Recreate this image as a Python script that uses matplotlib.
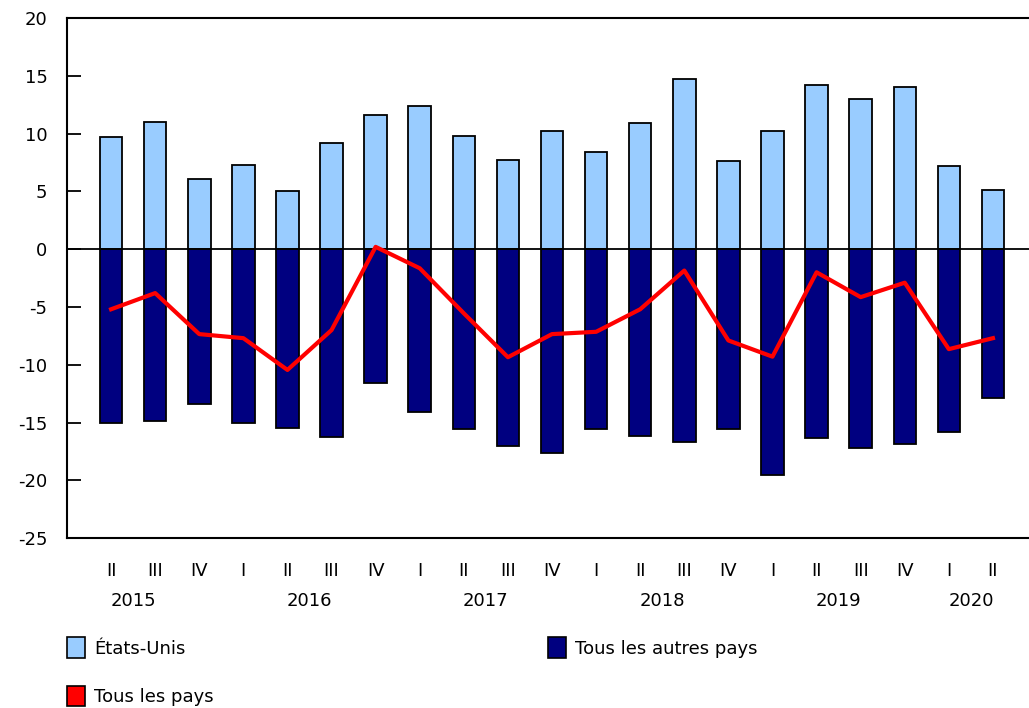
import matplotlib.pyplot as plt
from matplotlib.patches import Patch
import numpy as np

plt.rcParams['font.family'] = ['DejaVu Sans']
plt.rcParams['axes.unicode_minus'] = False

# quarters, 2015 Q2 .. 2020 Q2
quarters = ['II', 'III', 'IV', 'I', 'II', 'III', 'IV', 'I', 'II', 'III', 'IV',
            'I', 'II', 'III', 'IV', 'I', 'II', 'III', 'IV', 'I', 'II']
years = ['2015', '2016', '2017', '2018', '2019', '2020']
year_pos = [0.5, 4.5, 8.5, 12.5, 16.5, 19.5]

etats_unis = [9.75, 11.0, 6.1, 7.3, 5.0, 9.2, 11.65, 12.35, 9.8, 7.7, 10.2,
              8.4, 10.9, 14.75, 7.65, 10.25, 14.2, 13.0, 14.0, 7.2, 5.15]
autres_pays = [-15.0, -14.9, -13.4, -15.0, -15.45, -16.25, -11.55, -14.1, -15.6, -17.05, -17.6,
               -15.6, -16.15, -16.65, -15.6, -19.55, -16.3, -17.2, -16.9, -15.85, -12.9]
tous_pays = [-5.2, -3.8, -7.35, -7.7, -10.45, -7.0, 0.2, -1.65, -5.55, -9.35, -7.35,
             -7.15, -5.2, -1.85, -7.9, -9.3, -2.0, -4.15, -2.9, -8.65, -7.7]

c_us = '#99CCFF'
c_other = '#000080'
c_all = '#FF0000'

fig = plt.figure(figsize=(10.29, 7.08), dpi=100)
ax = fig.add_axes([0.0651, 0.240, 0.935, 0.7345])

x = np.arange(len(quarters))
ax.bar(x, etats_unis, width=0.51, color=c_us, edgecolor='black', linewidth=1.3, zorder=2)
ax.bar(x, autres_pays, width=0.51, color=c_other, edgecolor='black', linewidth=1.3, zorder=2)
ax.axhline(0, color='black', linewidth=1.3, zorder=3)
ax.plot(x, tous_pays, color=c_all, linewidth=3, zorder=4)

ax.set_xlim(-1.0, 20.82)
ax.set_ylim(-25, 20)
ax.set_yticks(range(-25, 21, 5))
ax.tick_params(axis='y', direction='in', length=10, width=1.3, labelsize=13, pad=14)
ax.set_xticks(x)
ax.set_xticklabels(quarters, fontsize=13)
ax.tick_params(axis='x', length=0, pad=17)

for y, lab in zip(year_pos, years):
    ax.text(y, -0.121, lab, transform=ax.get_xaxis_transform(), ha='center', va='center', fontsize=13)

for s in ['left', 'top', 'bottom']:
    ax.spines[s].set_linewidth(1.5)
ax.spines['right'].set_visible(False)

handles = [Patch(facecolor=c_us, edgecolor='black', linewidth=1.2),
           Patch(facecolor=c_all, edgecolor='black', linewidth=1.2),
           Patch(facecolor=c_other, edgecolor='black', linewidth=1.2)]
labels = ['États-Unis', 'Tous les pays', 'Tous les autres pays']
fig.legend(handles, labels, ncol=2, loc='upper left', bbox_to_anchor=(0.058, 0.11),
           frameon=False, fontsize=13, handlelength=1.0, handleheight=1.35,
           handletextpad=0.5, labelspacing=1.55, columnspacing=18.5, borderaxespad=0)

fig.savefig('out.png', dpi=100)
